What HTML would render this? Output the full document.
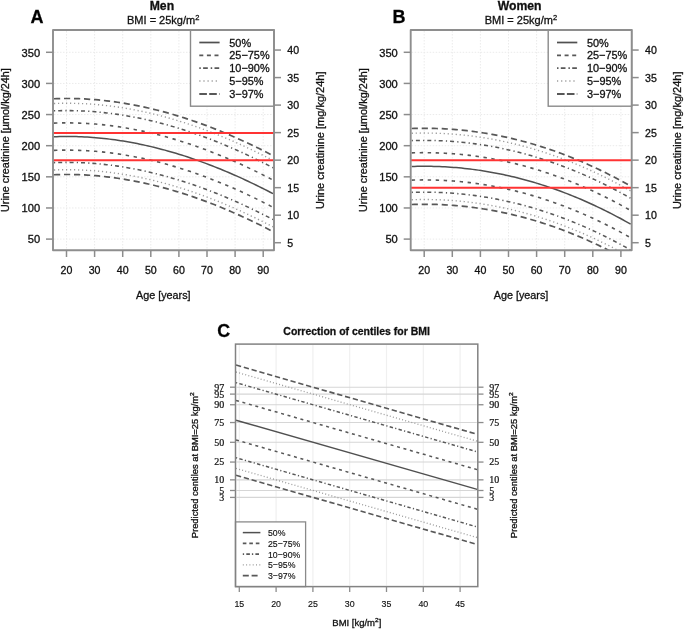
<!DOCTYPE html>
<html><head><meta charset="utf-8"><title>Urine creatinine centiles</title>
<style>html,body{margin:0;padding:0;background:#fff;}svg{display:block;filter:blur(0.4px);} text{stroke:#111;stroke-width:0.3px;}</style>
</head><body>
<svg width="685" height="629" viewBox="0 0 685 629" font-family='"Liberation Sans", sans-serif'>
<defs>
<clipPath id="clipA"><rect x="53" y="30" width="221" height="220.2"/></clipPath>
<clipPath id="clipB"><rect x="53" y="30" width="221" height="220.2"/></clipPath>
</defs>
<rect width="685" height="629" fill="#fff"/>
<g transform="translate(0.00,0)">
<line x1="66.50" y1="31.00" x2="66.50" y2="249.20" stroke="#ebebeb" stroke-width="1" stroke-dasharray="1.5 1.5"/>
<line x1="94.60" y1="31.00" x2="94.60" y2="249.20" stroke="#ebebeb" stroke-width="1" stroke-dasharray="1.5 1.5"/>
<line x1="122.70" y1="31.00" x2="122.70" y2="249.20" stroke="#ebebeb" stroke-width="1" stroke-dasharray="1.5 1.5"/>
<line x1="150.80" y1="31.00" x2="150.80" y2="249.20" stroke="#ebebeb" stroke-width="1" stroke-dasharray="1.5 1.5"/>
<line x1="178.90" y1="31.00" x2="178.90" y2="249.20" stroke="#ebebeb" stroke-width="1" stroke-dasharray="1.5 1.5"/>
<line x1="207.00" y1="31.00" x2="207.00" y2="249.20" stroke="#ebebeb" stroke-width="1" stroke-dasharray="1.5 1.5"/>
<line x1="235.10" y1="31.00" x2="235.10" y2="249.20" stroke="#ebebeb" stroke-width="1" stroke-dasharray="1.5 1.5"/>
<line x1="263.20" y1="31.00" x2="263.20" y2="249.20" stroke="#ebebeb" stroke-width="1" stroke-dasharray="1.5 1.5"/>
<line x1="54.00" y1="239.10" x2="273.00" y2="239.10" stroke="#ebebeb" stroke-width="1" stroke-dasharray="1.5 1.5"/>
<line x1="54.00" y1="207.97" x2="273.00" y2="207.97" stroke="#ebebeb" stroke-width="1" stroke-dasharray="1.5 1.5"/>
<line x1="54.00" y1="176.83" x2="273.00" y2="176.83" stroke="#ebebeb" stroke-width="1" stroke-dasharray="1.5 1.5"/>
<line x1="54.00" y1="145.69" x2="273.00" y2="145.69" stroke="#ebebeb" stroke-width="1" stroke-dasharray="1.5 1.5"/>
<line x1="54.00" y1="114.56" x2="273.00" y2="114.56" stroke="#ebebeb" stroke-width="1" stroke-dasharray="1.5 1.5"/>
<line x1="54.00" y1="83.42" x2="273.00" y2="83.42" stroke="#ebebeb" stroke-width="1" stroke-dasharray="1.5 1.5"/>
<line x1="54.00" y1="52.29" x2="273.00" y2="52.29" stroke="#ebebeb" stroke-width="1" stroke-dasharray="1.5 1.5"/>
<g clip-path="url(#clipA)">
<path d="M54.00,98.75 L56.77,98.65 L59.54,98.58 L62.32,98.53 L65.09,98.50 L67.86,98.50 L70.63,98.52 L73.41,98.56 L76.18,98.62 L78.95,98.71 L81.72,98.82 L84.49,98.95 L87.27,99.11 L90.04,99.29 L92.81,99.49 L95.58,99.71 L98.35,99.95 L101.13,100.22 L103.90,100.50 L106.67,100.81 L109.44,101.14 L112.22,101.49 L114.99,101.87 L117.76,102.26 L120.53,102.68 L123.30,103.12 L126.08,103.58 L128.85,104.06 L131.62,104.56 L134.39,105.08 L137.16,105.62 L139.94,106.18 L142.71,106.77 L145.48,107.37 L148.25,107.99 L151.03,108.64 L153.80,109.30 L156.57,109.99 L159.34,110.69 L162.11,111.42 L164.89,112.16 L167.66,112.93 L170.43,113.71 L173.20,114.51 L175.97,115.34 L178.75,116.18 L181.52,117.04 L184.29,117.92 L187.06,118.82 L189.84,119.74 L192.61,120.68 L195.38,121.63 L198.15,122.61 L200.92,123.60 L203.70,124.61 L206.47,125.64 L209.24,126.69 L212.01,127.76 L214.78,128.84 L217.56,129.95 L220.33,131.07 L223.10,132.21 L225.87,133.37 L228.65,134.54 L231.42,135.73 L234.19,136.94 L236.96,138.17 L239.73,139.42 L242.51,140.68 L245.28,141.96 L248.05,143.25 L250.82,144.57 L253.59,145.90 L256.37,147.24 L259.14,148.61 L261.91,149.99 L264.68,151.38 L267.46,152.80 L270.23,154.23 L273.00,155.67" fill="none" stroke="#585858" stroke-width="1.70" stroke-dasharray="6.2 3.8"/>
<path d="M54.00,103.52 L56.77,103.42 L59.54,103.35 L62.32,103.30 L65.09,103.27 L67.86,103.27 L70.63,103.28 L73.41,103.33 L76.18,103.39 L78.95,103.48 L81.72,103.59 L84.49,103.72 L87.27,103.88 L90.04,104.05 L92.81,104.25 L95.58,104.47 L98.35,104.72 L101.13,104.98 L103.90,105.27 L106.67,105.58 L109.44,105.91 L112.22,106.26 L114.99,106.63 L117.76,107.03 L120.53,107.45 L123.30,107.88 L126.08,108.34 L128.85,108.82 L131.62,109.32 L134.39,109.84 L137.16,110.39 L139.94,110.95 L142.71,111.53 L145.48,112.14 L148.25,112.76 L151.03,113.40 L153.80,114.07 L156.57,114.75 L159.34,115.46 L162.11,116.18 L164.89,116.93 L167.66,117.69 L170.43,118.47 L173.20,119.28 L175.97,120.10 L178.75,120.94 L181.52,121.80 L184.29,122.69 L187.06,123.58 L189.84,124.50 L192.61,125.44 L195.38,126.40 L198.15,127.37 L200.92,128.37 L203.70,129.38 L206.47,130.41 L209.24,131.46 L212.01,132.53 L214.78,133.61 L217.56,134.71 L220.33,135.84 L223.10,136.98 L225.87,138.13 L228.65,139.31 L231.42,140.50 L234.19,141.71 L236.96,142.94 L239.73,144.18 L242.51,145.44 L245.28,146.72 L248.05,148.02 L250.82,149.33 L253.59,150.66 L256.37,152.01 L259.14,153.37 L261.91,154.75 L264.68,156.15 L267.46,157.56 L270.23,158.99 L273.00,160.44" fill="none" stroke="#9a9a9a" stroke-width="1.40" stroke-dasharray="1.2 2.8"/>
<path d="M54.00,110.85 L56.77,110.76 L59.54,110.68 L62.32,110.63 L65.09,110.61 L67.86,110.60 L70.63,110.62 L73.41,110.66 L76.18,110.73 L78.95,110.82 L81.72,110.93 L84.49,111.06 L87.27,111.21 L90.04,111.39 L92.81,111.59 L95.58,111.81 L98.35,112.06 L101.13,112.32 L103.90,112.61 L106.67,112.92 L109.44,113.25 L112.22,113.60 L114.99,113.97 L117.76,114.37 L120.53,114.78 L123.30,115.22 L126.08,115.68 L128.85,116.16 L131.62,116.66 L134.39,117.18 L137.16,117.72 L139.94,118.29 L142.71,118.87 L145.48,119.47 L148.25,120.10 L151.03,120.74 L153.80,121.41 L156.57,122.09 L159.34,122.80 L162.11,123.52 L164.89,124.27 L167.66,125.03 L170.43,125.81 L173.20,126.62 L175.97,127.44 L178.75,128.28 L181.52,129.14 L184.29,130.02 L187.06,130.92 L189.84,131.84 L192.61,132.78 L195.38,133.74 L198.15,134.71 L200.92,135.70 L203.70,136.72 L206.47,137.75 L209.24,138.80 L212.01,139.86 L214.78,140.95 L217.56,142.05 L220.33,143.17 L223.10,144.31 L225.87,145.47 L228.65,146.65 L231.42,147.84 L234.19,149.05 L236.96,150.28 L239.73,151.52 L242.51,152.78 L245.28,154.06 L248.05,155.36 L250.82,156.67 L253.59,158.00 L256.37,159.35 L259.14,160.71 L261.91,162.09 L264.68,163.49 L267.46,164.90 L270.23,166.33 L273.00,167.78" fill="none" stroke="#585858" stroke-width="1.55" stroke-dasharray="1.2 3 4 3.2"/>
<path d="M54.00,123.12 L56.77,123.02 L59.54,122.95 L62.32,122.90 L65.09,122.87 L67.86,122.87 L70.63,122.89 L73.41,122.93 L76.18,122.99 L78.95,123.08 L81.72,123.19 L84.49,123.32 L87.27,123.48 L90.04,123.65 L92.81,123.85 L95.58,124.07 L98.35,124.32 L101.13,124.58 L103.90,124.87 L106.67,125.18 L109.44,125.51 L112.22,125.86 L114.99,126.24 L117.76,126.63 L120.53,127.05 L123.30,127.48 L126.08,127.94 L128.85,128.42 L131.62,128.92 L134.39,129.44 L137.16,129.99 L139.94,130.55 L142.71,131.13 L145.48,131.74 L148.25,132.36 L151.03,133.01 L153.80,133.67 L156.57,134.35 L159.34,135.06 L162.11,135.78 L164.89,136.53 L167.66,137.29 L170.43,138.08 L173.20,138.88 L175.97,139.70 L178.75,140.54 L181.52,141.41 L184.29,142.29 L187.06,143.19 L189.84,144.10 L192.61,145.04 L195.38,146.00 L198.15,146.97 L200.92,147.97 L203.70,148.98 L206.47,150.01 L209.24,151.06 L212.01,152.13 L214.78,153.21 L217.56,154.32 L220.33,155.44 L223.10,156.58 L225.87,157.73 L228.65,158.91 L231.42,160.10 L234.19,161.31 L236.96,162.54 L239.73,163.78 L242.51,165.05 L245.28,166.32 L248.05,167.62 L250.82,168.93 L253.59,170.26 L256.37,171.61 L259.14,172.97 L261.91,174.35 L264.68,175.75 L267.46,177.16 L270.23,178.59 L273.00,180.04" fill="none" stroke="#585858" stroke-width="1.60" stroke-dasharray="3.4 4.6"/>
<path d="M54.00,136.74 L56.77,136.65 L59.54,136.57 L62.32,136.52 L65.09,136.50 L67.86,136.49 L70.63,136.51 L73.41,136.55 L76.18,136.62 L78.95,136.70 L81.72,136.81 L84.49,136.95 L87.27,137.10 L90.04,137.28 L92.81,137.48 L95.58,137.70 L98.35,137.94 L101.13,138.21 L103.90,138.49 L106.67,138.80 L109.44,139.13 L112.22,139.49 L114.99,139.86 L117.76,140.26 L120.53,140.67 L123.30,141.11 L126.08,141.57 L128.85,142.05 L131.62,142.55 L134.39,143.07 L137.16,143.61 L139.94,144.17 L142.71,144.76 L145.48,145.36 L148.25,145.99 L151.03,146.63 L153.80,147.29 L156.57,147.98 L159.34,148.68 L162.11,149.41 L164.89,150.15 L167.66,150.92 L170.43,151.70 L173.20,152.50 L175.97,153.33 L178.75,154.17 L181.52,155.03 L184.29,155.91 L187.06,156.81 L189.84,157.73 L192.61,158.67 L195.38,159.62 L198.15,160.60 L200.92,161.59 L203.70,162.60 L206.47,163.64 L209.24,164.68 L212.01,165.75 L214.78,166.84 L217.56,167.94 L220.33,169.06 L223.10,170.20 L225.87,171.36 L228.65,172.53 L231.42,173.73 L234.19,174.94 L236.96,176.16 L239.73,177.41 L242.51,178.67 L245.28,179.95 L248.05,181.25 L250.82,182.56 L253.59,183.89 L256.37,185.24 L259.14,186.60 L261.91,187.98 L264.68,189.38 L267.46,190.79 L270.23,192.22 L273.00,193.66" fill="none" stroke="#505050" stroke-width="1.50"/>
<path d="M54.00,150.37 L56.77,150.27 L59.54,150.20 L62.32,150.15 L65.09,150.12 L67.86,150.12 L70.63,150.14 L73.41,150.18 L76.18,150.24 L78.95,150.33 L81.72,150.44 L84.49,150.57 L87.27,150.73 L90.04,150.90 L92.81,151.10 L95.58,151.32 L98.35,151.57 L101.13,151.83 L103.90,152.12 L106.67,152.43 L109.44,152.76 L112.22,153.11 L114.99,153.49 L117.76,153.88 L120.53,154.30 L123.30,154.73 L126.08,155.19 L128.85,155.67 L131.62,156.17 L134.39,156.69 L137.16,157.24 L139.94,157.80 L142.71,158.38 L145.48,158.99 L148.25,159.61 L151.03,160.25 L153.80,160.92 L156.57,161.60 L159.34,162.31 L162.11,163.03 L164.89,163.78 L167.66,164.54 L170.43,165.33 L173.20,166.13 L175.97,166.95 L178.75,167.79 L181.52,168.66 L184.29,169.54 L187.06,170.44 L189.84,171.35 L192.61,172.29 L195.38,173.25 L198.15,174.22 L200.92,175.22 L203.70,176.23 L206.47,177.26 L209.24,178.31 L212.01,179.38 L214.78,180.46 L217.56,181.57 L220.33,182.69 L223.10,183.83 L225.87,184.98 L228.65,186.16 L231.42,187.35 L234.19,188.56 L236.96,189.79 L239.73,191.03 L242.51,192.29 L245.28,193.57 L248.05,194.87 L250.82,196.18 L253.59,197.51 L256.37,198.86 L259.14,200.22 L261.91,201.60 L264.68,203.00 L267.46,204.41 L270.23,205.84 L273.00,207.29" fill="none" stroke="#585858" stroke-width="1.60" stroke-dasharray="3.4 4.6"/>
<path d="M54.00,162.63 L56.77,162.53 L59.54,162.46 L62.32,162.41 L65.09,162.38 L67.86,162.38 L70.63,162.40 L73.41,162.44 L76.18,162.50 L78.95,162.59 L81.72,162.70 L84.49,162.83 L87.27,162.99 L90.04,163.17 L92.81,163.36 L95.58,163.59 L98.35,163.83 L101.13,164.10 L103.90,164.38 L106.67,164.69 L109.44,165.02 L112.22,165.37 L114.99,165.75 L117.76,166.14 L120.53,166.56 L123.30,167.00 L126.08,167.46 L128.85,167.93 L131.62,168.44 L134.39,168.96 L137.16,169.50 L139.94,170.06 L142.71,170.64 L145.48,171.25 L148.25,171.87 L151.03,172.52 L153.80,173.18 L156.57,173.87 L159.34,174.57 L162.11,175.30 L164.89,176.04 L167.66,176.80 L170.43,177.59 L173.20,178.39 L175.97,179.21 L178.75,180.06 L181.52,180.92 L184.29,181.80 L187.06,182.70 L189.84,183.62 L192.61,184.55 L195.38,185.51 L198.15,186.49 L200.92,187.48 L203.70,188.49 L206.47,189.52 L209.24,190.57 L212.01,191.64 L214.78,192.72 L217.56,193.83 L220.33,194.95 L223.10,196.09 L225.87,197.25 L228.65,198.42 L231.42,199.61 L234.19,200.82 L236.96,202.05 L239.73,203.30 L242.51,204.56 L245.28,205.84 L248.05,207.13 L250.82,208.45 L253.59,209.78 L256.37,211.12 L259.14,212.49 L261.91,213.87 L264.68,215.26 L267.46,216.68 L270.23,218.11 L273.00,219.55" fill="none" stroke="#585858" stroke-width="1.55" stroke-dasharray="1.2 3 4 3.2"/>
<path d="M54.00,169.97 L56.77,169.87 L59.54,169.80 L62.32,169.75 L65.09,169.72 L67.86,169.72 L70.63,169.74 L73.41,169.78 L76.18,169.84 L78.95,169.93 L81.72,170.04 L84.49,170.17 L87.27,170.33 L90.04,170.50 L92.81,170.70 L95.58,170.93 L98.35,171.17 L101.13,171.43 L103.90,171.72 L106.67,172.03 L109.44,172.36 L112.22,172.71 L114.99,173.09 L117.76,173.48 L120.53,173.90 L123.30,174.34 L126.08,174.79 L128.85,175.27 L131.62,175.77 L134.39,176.30 L137.16,176.84 L139.94,177.40 L142.71,177.98 L145.48,178.59 L148.25,179.21 L151.03,179.86 L153.80,180.52 L156.57,181.21 L159.34,181.91 L162.11,182.63 L164.89,183.38 L167.66,184.14 L170.43,184.93 L173.20,185.73 L175.97,186.55 L178.75,187.40 L181.52,188.26 L184.29,189.14 L187.06,190.04 L189.84,190.96 L192.61,191.89 L195.38,192.85 L198.15,193.82 L200.92,194.82 L203.70,195.83 L206.47,196.86 L209.24,197.91 L212.01,198.98 L214.78,200.06 L217.56,201.17 L220.33,202.29 L223.10,203.43 L225.87,204.58 L228.65,205.76 L231.42,206.95 L234.19,208.16 L236.96,209.39 L239.73,210.63 L242.51,211.90 L245.28,213.18 L248.05,214.47 L250.82,215.78 L253.59,217.11 L256.37,218.46 L259.14,219.83 L261.91,221.21 L264.68,222.60 L267.46,224.02 L270.23,225.44 L273.00,226.89" fill="none" stroke="#9a9a9a" stroke-width="1.40" stroke-dasharray="1.2 2.8"/>
<path d="M54.00,174.73 L56.77,174.64 L59.54,174.56 L62.32,174.51 L65.09,174.49 L67.86,174.48 L70.63,174.50 L73.41,174.54 L76.18,174.61 L78.95,174.70 L81.72,174.81 L84.49,174.94 L87.27,175.09 L90.04,175.27 L92.81,175.47 L95.58,175.69 L98.35,175.93 L101.13,176.20 L103.90,176.49 L106.67,176.80 L109.44,177.13 L112.22,177.48 L114.99,177.85 L117.76,178.25 L120.53,178.66 L123.30,179.10 L126.08,179.56 L128.85,180.04 L131.62,180.54 L134.39,181.06 L137.16,181.60 L139.94,182.17 L142.71,182.75 L145.48,183.35 L148.25,183.98 L151.03,184.62 L153.80,185.29 L156.57,185.97 L159.34,186.68 L162.11,187.40 L164.89,188.14 L167.66,188.91 L170.43,189.69 L173.20,190.50 L175.97,191.32 L178.75,192.16 L181.52,193.02 L184.29,193.90 L187.06,194.80 L189.84,195.72 L192.61,196.66 L195.38,197.62 L198.15,198.59 L200.92,199.58 L203.70,200.60 L206.47,201.63 L209.24,202.68 L212.01,203.74 L214.78,204.83 L217.56,205.93 L220.33,207.05 L223.10,208.19 L225.87,209.35 L228.65,210.53 L231.42,211.72 L234.19,212.93 L236.96,214.16 L239.73,215.40 L242.51,216.66 L245.28,217.94 L248.05,219.24 L250.82,220.55 L253.59,221.88 L256.37,223.23 L259.14,224.59 L261.91,225.97 L264.68,227.37 L267.46,228.78 L270.23,230.21 L273.00,231.66" fill="none" stroke="#585858" stroke-width="1.70" stroke-dasharray="6.2 3.8"/>
</g>
<line x1="53.00" y1="132.95" x2="274.00" y2="132.95" stroke="#ff3333" stroke-width="2"/>
<line x1="53.00" y1="160.30" x2="274.00" y2="160.30" stroke="#ff3333" stroke-width="2"/>
<rect x="190.5" y="30.00" width="83.50" height="76.20" fill="#fff" stroke="#8a8a8a" stroke-width="1.4"/>
<path d="M199.3,42.50 L219.6,42.50" fill="none" stroke="#505050" stroke-width="1.72"/>
<text x="229.3" y="46.60" font-size="10.9" fill="#111">50%</text>
<path d="M199.3,55.35 L219.6,55.35" fill="none" stroke="#585858" stroke-width="1.84" stroke-dasharray="4 3.6"/>
<text x="229.3" y="59.45" font-size="10.9" fill="#111">25−75%</text>
<path d="M199.3,68.20 L219.6,68.20" fill="none" stroke="#585858" stroke-width="1.78" stroke-dasharray="1.5 2.3 4.7 2.9"/>
<text x="229.3" y="72.30" font-size="10.9" fill="#111">10−90%</text>
<path d="M199.3,81.05 L219.6,81.05" fill="none" stroke="#9a9a9a" stroke-width="1.61" stroke-dasharray="1.2 2.9"/>
<text x="229.3" y="85.15" font-size="10.9" fill="#111">5−95%</text>
<path d="M199.3,93.90 L219.6,93.90" fill="none" stroke="#585858" stroke-width="1.95" stroke-dasharray="7.6 2.3"/>
<text x="229.3" y="98.00" font-size="10.9" fill="#111">3−97%</text>
<rect x="53.00" y="30.00" width="221.00" height="220.20" fill="none" stroke="#8e8e8e" stroke-width="1.9" stroke-linejoin="round"/>
<line x1="46" y1="239.10" x2="53.00" y2="239.10" stroke="#8c8c8c" stroke-width="1.5"/>
<text transform="translate(40.1,243.35) scale(1.05,1)" font-size="10.6" text-anchor="end" fill="#111">50</text>
<line x1="46" y1="207.97" x2="53.00" y2="207.97" stroke="#8c8c8c" stroke-width="1.5"/>
<text transform="translate(40.1,212.22) scale(1.05,1)" font-size="10.6" text-anchor="end" fill="#111">100</text>
<line x1="46" y1="176.83" x2="53.00" y2="176.83" stroke="#8c8c8c" stroke-width="1.5"/>
<text transform="translate(40.1,181.08) scale(1.05,1)" font-size="10.6" text-anchor="end" fill="#111">150</text>
<line x1="46" y1="145.69" x2="53.00" y2="145.69" stroke="#8c8c8c" stroke-width="1.5"/>
<text transform="translate(40.1,149.94) scale(1.05,1)" font-size="10.6" text-anchor="end" fill="#111">200</text>
<line x1="46" y1="114.56" x2="53.00" y2="114.56" stroke="#8c8c8c" stroke-width="1.5"/>
<text transform="translate(40.1,118.81) scale(1.05,1)" font-size="10.6" text-anchor="end" fill="#111">250</text>
<line x1="46" y1="83.42" x2="53.00" y2="83.42" stroke="#8c8c8c" stroke-width="1.5"/>
<text transform="translate(40.1,87.67) scale(1.05,1)" font-size="10.6" text-anchor="end" fill="#111">300</text>
<line x1="46" y1="52.29" x2="53.00" y2="52.29" stroke="#8c8c8c" stroke-width="1.5"/>
<text transform="translate(40.1,56.54) scale(1.05,1)" font-size="10.6" text-anchor="end" fill="#111">350</text>
<line x1="274.00" y1="242.71" x2="281" y2="242.71" stroke="#8c8c8c" stroke-width="1.5"/>
<text x="287.3" y="246.71" font-size="10.6" fill="#111">5</text>
<line x1="274.00" y1="215.19" x2="281" y2="215.19" stroke="#8c8c8c" stroke-width="1.5"/>
<text x="287.3" y="219.19" font-size="10.6" fill="#111">10</text>
<line x1="274.00" y1="187.66" x2="281" y2="187.66" stroke="#8c8c8c" stroke-width="1.5"/>
<text x="287.3" y="191.66" font-size="10.6" fill="#111">15</text>
<line x1="274.00" y1="160.14" x2="281" y2="160.14" stroke="#8c8c8c" stroke-width="1.5"/>
<text x="287.3" y="164.14" font-size="10.6" fill="#111">20</text>
<line x1="274.00" y1="132.62" x2="281" y2="132.62" stroke="#8c8c8c" stroke-width="1.5"/>
<text x="287.3" y="136.62" font-size="10.6" fill="#111">25</text>
<line x1="274.00" y1="105.09" x2="281" y2="105.09" stroke="#8c8c8c" stroke-width="1.5"/>
<text x="287.3" y="109.09" font-size="10.6" fill="#111">30</text>
<line x1="274.00" y1="77.57" x2="281" y2="77.57" stroke="#8c8c8c" stroke-width="1.5"/>
<text x="287.3" y="81.57" font-size="10.6" fill="#111">35</text>
<line x1="274.00" y1="50.05" x2="281" y2="50.05" stroke="#8c8c8c" stroke-width="1.5"/>
<text x="287.3" y="54.05" font-size="10.6" fill="#111">40</text>
<line x1="66.50" y1="250.20" x2="66.50" y2="257" stroke="#8c8c8c" stroke-width="1.5"/>
<text x="66.50" y="273.8" font-size="10.6" text-anchor="middle" fill="#111">20</text>
<line x1="94.60" y1="250.20" x2="94.60" y2="257" stroke="#8c8c8c" stroke-width="1.5"/>
<text x="94.60" y="273.8" font-size="10.6" text-anchor="middle" fill="#111">30</text>
<line x1="122.70" y1="250.20" x2="122.70" y2="257" stroke="#8c8c8c" stroke-width="1.5"/>
<text x="122.70" y="273.8" font-size="10.6" text-anchor="middle" fill="#111">40</text>
<line x1="150.80" y1="250.20" x2="150.80" y2="257" stroke="#8c8c8c" stroke-width="1.5"/>
<text x="150.80" y="273.8" font-size="10.6" text-anchor="middle" fill="#111">50</text>
<line x1="178.90" y1="250.20" x2="178.90" y2="257" stroke="#8c8c8c" stroke-width="1.5"/>
<text x="178.90" y="273.8" font-size="10.6" text-anchor="middle" fill="#111">60</text>
<line x1="207.00" y1="250.20" x2="207.00" y2="257" stroke="#8c8c8c" stroke-width="1.5"/>
<text x="207.00" y="273.8" font-size="10.6" text-anchor="middle" fill="#111">70</text>
<line x1="235.10" y1="250.20" x2="235.10" y2="257" stroke="#8c8c8c" stroke-width="1.5"/>
<text x="235.10" y="273.8" font-size="10.6" text-anchor="middle" fill="#111">80</text>
<line x1="263.20" y1="250.20" x2="263.20" y2="257" stroke="#8c8c8c" stroke-width="1.5"/>
<text x="263.20" y="273.8" font-size="10.6" text-anchor="middle" fill="#111">90</text>
<text x="163.3" y="299.1" font-size="10.8" text-anchor="middle" fill="#111">Age [years]</text>
<text transform="translate(9.0,140.1) rotate(-90)" font-size="10.8" text-anchor="middle" fill="#111">Urine creatinine [µmol/kg/24h]</text>
<text transform="translate(323.6,140.3) rotate(-90)" font-size="11" text-anchor="middle" fill="#111">Urine creatinine [mg/kg/24h]</text>
<text x="161.9" y="10.25" font-size="12.2" font-weight="bold" text-anchor="middle" fill="#111">Men</text>
<text x="163.2" y="24.1" font-size="11" text-anchor="middle" fill="#111">BMI = 25kg/m<tspan font-size="7.5" dy="-4">2</tspan></text>
<text x="30.50" y="22.6" font-size="18" font-weight="bold" fill="#000">A</text>
</g>
<g transform="translate(357.70,0)">
<line x1="66.50" y1="31.00" x2="66.50" y2="249.20" stroke="#ebebeb" stroke-width="1" stroke-dasharray="1.5 1.5"/>
<line x1="94.60" y1="31.00" x2="94.60" y2="249.20" stroke="#ebebeb" stroke-width="1" stroke-dasharray="1.5 1.5"/>
<line x1="122.70" y1="31.00" x2="122.70" y2="249.20" stroke="#ebebeb" stroke-width="1" stroke-dasharray="1.5 1.5"/>
<line x1="150.80" y1="31.00" x2="150.80" y2="249.20" stroke="#ebebeb" stroke-width="1" stroke-dasharray="1.5 1.5"/>
<line x1="178.90" y1="31.00" x2="178.90" y2="249.20" stroke="#ebebeb" stroke-width="1" stroke-dasharray="1.5 1.5"/>
<line x1="207.00" y1="31.00" x2="207.00" y2="249.20" stroke="#ebebeb" stroke-width="1" stroke-dasharray="1.5 1.5"/>
<line x1="235.10" y1="31.00" x2="235.10" y2="249.20" stroke="#ebebeb" stroke-width="1" stroke-dasharray="1.5 1.5"/>
<line x1="263.20" y1="31.00" x2="263.20" y2="249.20" stroke="#ebebeb" stroke-width="1" stroke-dasharray="1.5 1.5"/>
<line x1="54.00" y1="239.10" x2="273.00" y2="239.10" stroke="#ebebeb" stroke-width="1" stroke-dasharray="1.5 1.5"/>
<line x1="54.00" y1="207.97" x2="273.00" y2="207.97" stroke="#ebebeb" stroke-width="1" stroke-dasharray="1.5 1.5"/>
<line x1="54.00" y1="176.83" x2="273.00" y2="176.83" stroke="#ebebeb" stroke-width="1" stroke-dasharray="1.5 1.5"/>
<line x1="54.00" y1="145.69" x2="273.00" y2="145.69" stroke="#ebebeb" stroke-width="1" stroke-dasharray="1.5 1.5"/>
<line x1="54.00" y1="114.56" x2="273.00" y2="114.56" stroke="#ebebeb" stroke-width="1" stroke-dasharray="1.5 1.5"/>
<line x1="54.00" y1="83.42" x2="273.00" y2="83.42" stroke="#ebebeb" stroke-width="1" stroke-dasharray="1.5 1.5"/>
<line x1="54.00" y1="52.29" x2="273.00" y2="52.29" stroke="#ebebeb" stroke-width="1" stroke-dasharray="1.5 1.5"/>
<g clip-path="url(#clipB)">
<path d="M54.00,128.51 L56.77,128.42 L59.54,128.36 L62.32,128.32 L65.09,128.29 L67.86,128.29 L70.63,128.31 L73.41,128.35 L76.18,128.41 L78.95,128.49 L81.72,128.59 L84.49,128.71 L87.27,128.85 L90.04,129.01 L92.81,129.19 L95.58,129.39 L98.35,129.62 L101.13,129.86 L103.90,130.12 L106.67,130.41 L109.44,130.71 L112.22,131.04 L114.99,131.39 L117.76,131.75 L120.53,132.14 L123.30,132.55 L126.08,132.98 L128.85,133.43 L131.62,133.90 L134.39,134.40 L137.16,134.91 L139.94,135.44 L142.71,136.00 L145.48,136.57 L148.25,137.17 L151.03,137.79 L153.80,138.43 L156.57,139.09 L159.34,139.77 L162.11,140.47 L164.89,141.20 L167.66,141.94 L170.43,142.71 L173.20,143.50 L175.97,144.30 L178.75,145.13 L181.52,145.98 L184.29,146.86 L187.06,147.75 L189.84,148.67 L192.61,149.60 L195.38,150.56 L198.15,151.54 L200.92,152.54 L203.70,153.56 L206.47,154.61 L209.24,155.67 L212.01,156.76 L214.78,157.87 L217.56,159.00 L220.33,160.15 L223.10,161.32 L225.87,162.52 L228.65,163.73 L231.42,164.97 L234.19,166.23 L236.96,167.52 L239.73,168.82 L242.51,170.14 L245.28,171.49 L248.05,172.86 L250.82,174.25 L253.59,175.67 L256.37,177.10 L259.14,178.56 L261.91,180.04 L264.68,181.54 L267.46,183.06 L270.23,184.61 L273.00,186.17" fill="none" stroke="#585858" stroke-width="1.70" stroke-dasharray="6.2 3.8"/>
<path d="M54.00,133.27 L56.77,133.19 L59.54,133.13 L62.32,133.08 L65.09,133.06 L67.86,133.06 L70.63,133.08 L73.41,133.11 L76.18,133.17 L78.95,133.25 L81.72,133.35 L84.49,133.47 L87.27,133.61 L90.04,133.78 L92.81,133.96 L95.58,134.16 L98.35,134.38 L101.13,134.63 L103.90,134.89 L106.67,135.17 L109.44,135.48 L112.22,135.81 L114.99,136.15 L117.76,136.52 L120.53,136.91 L123.30,137.32 L126.08,137.75 L128.85,138.20 L131.62,138.67 L134.39,139.16 L137.16,139.68 L139.94,140.21 L142.71,140.76 L145.48,141.34 L148.25,141.94 L151.03,142.56 L153.80,143.20 L156.57,143.86 L159.34,144.54 L162.11,145.24 L164.89,145.96 L167.66,146.71 L170.43,147.47 L173.20,148.26 L175.97,149.07 L178.75,149.90 L181.52,150.75 L184.29,151.62 L187.06,152.52 L189.84,153.43 L192.61,154.37 L195.38,155.33 L198.15,156.31 L200.92,157.31 L203.70,158.33 L206.47,159.37 L209.24,160.44 L212.01,161.52 L214.78,162.63 L217.56,163.76 L220.33,164.92 L223.10,166.09 L225.87,167.28 L228.65,168.50 L231.42,169.74 L234.19,171.00 L236.96,172.28 L239.73,173.58 L242.51,174.91 L245.28,176.26 L248.05,177.63 L250.82,179.02 L253.59,180.43 L256.37,181.87 L259.14,183.32 L261.91,184.80 L264.68,186.30 L267.46,187.83 L270.23,189.37 L273.00,190.94" fill="none" stroke="#9a9a9a" stroke-width="1.40" stroke-dasharray="1.2 2.8"/>
<path d="M54.00,140.61 L56.77,140.53 L59.54,140.46 L62.32,140.42 L65.09,140.40 L67.86,140.40 L70.63,140.42 L73.41,140.45 L76.18,140.51 L78.95,140.59 L81.72,140.69 L84.49,140.81 L87.27,140.95 L90.04,141.11 L92.81,141.30 L95.58,141.50 L98.35,141.72 L101.13,141.96 L103.90,142.23 L106.67,142.51 L109.44,142.82 L112.22,143.14 L114.99,143.49 L117.76,143.86 L120.53,144.25 L123.30,144.66 L126.08,145.09 L128.85,145.54 L131.62,146.01 L134.39,146.50 L137.16,147.01 L139.94,147.55 L142.71,148.10 L145.48,148.68 L148.25,149.28 L151.03,149.89 L153.80,150.53 L156.57,151.19 L159.34,151.88 L162.11,152.58 L164.89,153.30 L167.66,154.05 L170.43,154.81 L173.20,155.60 L175.97,156.41 L178.75,157.24 L181.52,158.09 L184.29,158.96 L187.06,159.86 L189.84,160.77 L192.61,161.71 L195.38,162.67 L198.15,163.64 L200.92,164.65 L203.70,165.67 L206.47,166.71 L209.24,167.78 L212.01,168.86 L214.78,169.97 L217.56,171.10 L220.33,172.25 L223.10,173.43 L225.87,174.62 L228.65,175.84 L231.42,177.08 L234.19,178.34 L236.96,179.62 L239.73,180.92 L242.51,182.25 L245.28,183.60 L248.05,184.97 L250.82,186.36 L253.59,187.77 L256.37,189.21 L259.14,190.66 L261.91,192.14 L264.68,193.64 L267.46,195.17 L270.23,196.71 L273.00,198.28" fill="none" stroke="#585858" stroke-width="1.55" stroke-dasharray="1.2 3 4 3.2"/>
<path d="M54.00,152.87 L56.77,152.79 L59.54,152.73 L62.32,152.68 L65.09,152.66 L67.86,152.66 L70.63,152.68 L73.41,152.72 L76.18,152.78 L78.95,152.85 L81.72,152.95 L84.49,153.07 L87.27,153.22 L90.04,153.38 L92.81,153.56 L95.58,153.76 L98.35,153.98 L101.13,154.23 L103.90,154.49 L106.67,154.78 L109.44,155.08 L112.22,155.41 L114.99,155.75 L117.76,156.12 L120.53,156.51 L123.30,156.92 L126.08,157.35 L128.85,157.80 L131.62,158.27 L134.39,158.76 L137.16,159.28 L139.94,159.81 L142.71,160.37 L145.48,160.94 L148.25,161.54 L151.03,162.16 L153.80,162.80 L156.57,163.46 L159.34,164.14 L162.11,164.84 L164.89,165.56 L167.66,166.31 L170.43,167.08 L173.20,167.86 L175.97,168.67 L178.75,169.50 L181.52,170.35 L184.29,171.22 L187.06,172.12 L189.84,173.03 L192.61,173.97 L195.38,174.93 L198.15,175.91 L200.92,176.91 L203.70,177.93 L206.47,178.97 L209.24,180.04 L212.01,181.13 L214.78,182.23 L217.56,183.36 L220.33,184.52 L223.10,185.69 L225.87,186.88 L228.65,188.10 L231.42,189.34 L234.19,190.60 L236.96,191.88 L239.73,193.19 L242.51,194.51 L245.28,195.86 L248.05,197.23 L250.82,198.62 L253.59,200.03 L256.37,201.47 L259.14,202.93 L261.91,204.40 L264.68,205.91 L267.46,207.43 L270.23,208.97 L273.00,210.54" fill="none" stroke="#585858" stroke-width="1.60" stroke-dasharray="3.4 4.6"/>
<path d="M54.00,166.50 L56.77,166.41 L59.54,166.35 L62.32,166.31 L65.09,166.29 L67.86,166.28 L70.63,166.30 L73.41,166.34 L76.18,166.40 L78.95,166.48 L81.72,166.58 L84.49,166.70 L87.27,166.84 L90.04,167.00 L92.81,167.18 L95.58,167.39 L98.35,167.61 L101.13,167.85 L103.90,168.12 L106.67,168.40 L109.44,168.71 L112.22,169.03 L114.99,169.38 L117.76,169.75 L120.53,170.13 L123.30,170.54 L126.08,170.97 L128.85,171.42 L131.62,171.90 L134.39,172.39 L137.16,172.90 L139.94,173.44 L142.71,173.99 L145.48,174.57 L148.25,175.16 L151.03,175.78 L153.80,176.42 L156.57,177.08 L159.34,177.76 L162.11,178.47 L164.89,179.19 L167.66,179.93 L170.43,180.70 L173.20,181.49 L175.97,182.30 L178.75,183.13 L181.52,183.98 L184.29,184.85 L187.06,185.74 L189.84,186.66 L192.61,187.59 L195.38,188.55 L198.15,189.53 L200.92,190.53 L203.70,191.55 L206.47,192.60 L209.24,193.66 L212.01,194.75 L214.78,195.86 L217.56,196.99 L220.33,198.14 L223.10,199.31 L225.87,200.51 L228.65,201.73 L231.42,202.96 L234.19,204.23 L236.96,205.51 L239.73,206.81 L242.51,208.14 L245.28,209.48 L248.05,210.85 L250.82,212.24 L253.59,213.66 L256.37,215.09 L259.14,216.55 L261.91,218.03 L264.68,219.53 L267.46,221.05 L270.23,222.60 L273.00,224.17" fill="none" stroke="#505050" stroke-width="1.50"/>
<path d="M54.00,180.12 L56.77,180.04 L59.54,179.98 L62.32,179.93 L65.09,179.91 L67.86,179.91 L70.63,179.93 L73.41,179.97 L76.18,180.02 L78.95,180.10 L81.72,180.20 L84.49,180.32 L87.27,180.46 L90.04,180.63 L92.81,180.81 L95.58,181.01 L98.35,181.23 L101.13,181.48 L103.90,181.74 L106.67,182.03 L109.44,182.33 L112.22,182.66 L114.99,183.00 L117.76,183.37 L120.53,183.76 L123.30,184.17 L126.08,184.60 L128.85,185.05 L131.62,185.52 L134.39,186.01 L137.16,186.53 L139.94,187.06 L142.71,187.62 L145.48,188.19 L148.25,188.79 L151.03,189.41 L153.80,190.05 L156.57,190.71 L159.34,191.39 L162.11,192.09 L164.89,192.81 L167.66,193.56 L170.43,194.32 L173.20,195.11 L175.97,195.92 L178.75,196.75 L181.52,197.60 L184.29,198.47 L187.06,199.37 L189.84,200.28 L192.61,201.22 L195.38,202.18 L198.15,203.16 L200.92,204.16 L203.70,205.18 L206.47,206.22 L209.24,207.29 L212.01,208.38 L214.78,209.48 L217.56,210.61 L220.33,211.77 L223.10,212.94 L225.87,214.13 L228.65,215.35 L231.42,216.59 L234.19,217.85 L236.96,219.13 L239.73,220.44 L242.51,221.76 L245.28,223.11 L248.05,224.48 L250.82,225.87 L253.59,227.28 L256.37,228.72 L259.14,230.17 L261.91,231.65 L264.68,233.16 L267.46,234.68 L270.23,236.22 L273.00,237.79" fill="none" stroke="#585858" stroke-width="1.60" stroke-dasharray="3.4 4.6"/>
<path d="M54.00,192.38 L56.77,192.30 L59.54,192.24 L62.32,192.20 L65.09,192.17 L67.86,192.17 L70.63,192.19 L73.41,192.23 L76.18,192.29 L78.95,192.37 L81.72,192.47 L84.49,192.59 L87.27,192.73 L90.04,192.89 L92.81,193.07 L95.58,193.27 L98.35,193.50 L101.13,193.74 L103.90,194.00 L106.67,194.29 L109.44,194.59 L112.22,194.92 L114.99,195.27 L117.76,195.63 L120.53,196.02 L123.30,196.43 L126.08,196.86 L128.85,197.31 L131.62,197.78 L134.39,198.28 L137.16,198.79 L139.94,199.32 L142.71,199.88 L145.48,200.45 L148.25,201.05 L151.03,201.67 L153.80,202.31 L156.57,202.97 L159.34,203.65 L162.11,204.35 L164.89,205.08 L167.66,205.82 L170.43,206.59 L173.20,207.37 L175.97,208.18 L178.75,209.01 L181.52,209.86 L184.29,210.74 L187.06,211.63 L189.84,212.55 L192.61,213.48 L195.38,214.44 L198.15,215.42 L200.92,216.42 L203.70,217.44 L206.47,218.49 L209.24,219.55 L212.01,220.64 L214.78,221.75 L217.56,222.88 L220.33,224.03 L223.10,225.20 L225.87,226.40 L228.65,227.61 L231.42,228.85 L234.19,230.11 L236.96,231.39 L239.73,232.70 L242.51,234.02 L245.28,235.37 L248.05,236.74 L250.82,238.13 L253.59,239.55 L256.37,240.98 L259.14,242.44 L261.91,243.92 L264.68,245.42 L267.46,246.94 L270.23,248.49 L273.00,250.05" fill="none" stroke="#585858" stroke-width="1.55" stroke-dasharray="1.2 3 4 3.2"/>
<path d="M54.00,199.72 L56.77,199.64 L59.54,199.58 L62.32,199.53 L65.09,199.51 L67.86,199.51 L70.63,199.53 L73.41,199.57 L76.18,199.63 L78.95,199.71 L81.72,199.81 L84.49,199.93 L87.27,200.07 L90.04,200.23 L92.81,200.41 L95.58,200.61 L98.35,200.83 L101.13,201.08 L103.90,201.34 L106.67,201.63 L109.44,201.93 L112.22,202.26 L114.99,202.60 L117.76,202.97 L120.53,203.36 L123.30,203.77 L126.08,204.20 L128.85,204.65 L131.62,205.12 L134.39,205.61 L137.16,206.13 L139.94,206.66 L142.71,207.22 L145.48,207.79 L148.25,208.39 L151.03,209.01 L153.80,209.65 L156.57,210.31 L159.34,210.99 L162.11,211.69 L164.89,212.42 L167.66,213.16 L170.43,213.93 L173.20,214.71 L175.97,215.52 L178.75,216.35 L181.52,217.20 L184.29,218.08 L187.06,218.97 L189.84,219.88 L192.61,220.82 L195.38,221.78 L198.15,222.76 L200.92,223.76 L203.70,224.78 L206.47,225.82 L209.24,226.89 L212.01,227.98 L214.78,229.09 L217.56,230.22 L220.33,231.37 L223.10,232.54 L225.87,233.74 L228.65,234.95 L231.42,236.19 L234.19,237.45 L236.96,238.73 L239.73,240.04 L242.51,241.36 L245.28,242.71 L248.05,244.08 L250.82,245.47 L253.59,246.88 L256.37,248.32 L259.14,249.78 L261.91,251.26 L264.68,252.76 L267.46,254.28 L270.23,255.82 L273.00,257.39" fill="none" stroke="#9a9a9a" stroke-width="1.40" stroke-dasharray="1.2 2.8"/>
<path d="M54.00,204.49 L56.77,204.41 L59.54,204.34 L62.32,204.30 L65.09,204.28 L67.86,204.28 L70.63,204.29 L73.41,204.33 L76.18,204.39 L78.95,204.47 L81.72,204.57 L84.49,204.69 L87.27,204.83 L90.04,204.99 L92.81,205.18 L95.58,205.38 L98.35,205.60 L101.13,205.84 L103.90,206.11 L106.67,206.39 L109.44,206.70 L112.22,207.02 L114.99,207.37 L117.76,207.74 L120.53,208.13 L123.30,208.54 L126.08,208.97 L128.85,209.42 L131.62,209.89 L134.39,210.38 L137.16,210.89 L139.94,211.43 L142.71,211.98 L145.48,212.56 L148.25,213.16 L151.03,213.77 L153.80,214.41 L156.57,215.07 L159.34,215.76 L162.11,216.46 L164.89,217.18 L167.66,217.93 L170.43,218.69 L173.20,219.48 L175.97,220.29 L178.75,221.12 L181.52,221.97 L184.29,222.84 L187.06,223.73 L189.84,224.65 L192.61,225.59 L195.38,226.54 L198.15,227.52 L200.92,228.52 L203.70,229.55 L206.47,230.59 L209.24,231.66 L212.01,232.74 L214.78,233.85 L217.56,234.98 L220.33,236.13 L223.10,237.31 L225.87,238.50 L228.65,239.72 L231.42,240.96 L234.19,242.22 L236.96,243.50 L239.73,244.80 L242.51,246.13 L245.28,247.48 L248.05,248.85 L250.82,250.24 L253.59,251.65 L256.37,253.09 L259.14,254.54 L261.91,256.02 L264.68,257.52 L267.46,259.05 L270.23,260.59 L273.00,262.16" fill="none" stroke="#585858" stroke-width="1.70" stroke-dasharray="6.2 3.8"/>
</g>
<line x1="53.00" y1="160.25" x2="274.00" y2="160.25" stroke="#ff3333" stroke-width="2"/>
<line x1="53.00" y1="187.70" x2="274.00" y2="187.70" stroke="#ff3333" stroke-width="2"/>
<rect x="190.5" y="30.00" width="83.50" height="76.20" fill="#fff" stroke="#8a8a8a" stroke-width="1.4"/>
<path d="M199.3,42.50 L219.6,42.50" fill="none" stroke="#505050" stroke-width="1.72"/>
<text x="229.3" y="46.60" font-size="10.9" fill="#111">50%</text>
<path d="M199.3,55.35 L219.6,55.35" fill="none" stroke="#585858" stroke-width="1.84" stroke-dasharray="4 3.6"/>
<text x="229.3" y="59.45" font-size="10.9" fill="#111">25−75%</text>
<path d="M199.3,68.20 L219.6,68.20" fill="none" stroke="#585858" stroke-width="1.78" stroke-dasharray="1.5 2.3 4.7 2.9"/>
<text x="229.3" y="72.30" font-size="10.9" fill="#111">10−90%</text>
<path d="M199.3,81.05 L219.6,81.05" fill="none" stroke="#9a9a9a" stroke-width="1.61" stroke-dasharray="1.2 2.9"/>
<text x="229.3" y="85.15" font-size="10.9" fill="#111">5−95%</text>
<path d="M199.3,93.90 L219.6,93.90" fill="none" stroke="#585858" stroke-width="1.95" stroke-dasharray="7.6 2.3"/>
<text x="229.3" y="98.00" font-size="10.9" fill="#111">3−97%</text>
<rect x="53.00" y="30.00" width="221.00" height="220.20" fill="none" stroke="#8e8e8e" stroke-width="1.9" stroke-linejoin="round"/>
<line x1="46" y1="239.10" x2="53.00" y2="239.10" stroke="#8c8c8c" stroke-width="1.5"/>
<text transform="translate(40.1,243.35) scale(1.05,1)" font-size="10.6" text-anchor="end" fill="#111">50</text>
<line x1="46" y1="207.97" x2="53.00" y2="207.97" stroke="#8c8c8c" stroke-width="1.5"/>
<text transform="translate(40.1,212.22) scale(1.05,1)" font-size="10.6" text-anchor="end" fill="#111">100</text>
<line x1="46" y1="176.83" x2="53.00" y2="176.83" stroke="#8c8c8c" stroke-width="1.5"/>
<text transform="translate(40.1,181.08) scale(1.05,1)" font-size="10.6" text-anchor="end" fill="#111">150</text>
<line x1="46" y1="145.69" x2="53.00" y2="145.69" stroke="#8c8c8c" stroke-width="1.5"/>
<text transform="translate(40.1,149.94) scale(1.05,1)" font-size="10.6" text-anchor="end" fill="#111">200</text>
<line x1="46" y1="114.56" x2="53.00" y2="114.56" stroke="#8c8c8c" stroke-width="1.5"/>
<text transform="translate(40.1,118.81) scale(1.05,1)" font-size="10.6" text-anchor="end" fill="#111">250</text>
<line x1="46" y1="83.42" x2="53.00" y2="83.42" stroke="#8c8c8c" stroke-width="1.5"/>
<text transform="translate(40.1,87.67) scale(1.05,1)" font-size="10.6" text-anchor="end" fill="#111">300</text>
<line x1="46" y1="52.29" x2="53.00" y2="52.29" stroke="#8c8c8c" stroke-width="1.5"/>
<text transform="translate(40.1,56.54) scale(1.05,1)" font-size="10.6" text-anchor="end" fill="#111">350</text>
<line x1="274.00" y1="242.71" x2="281" y2="242.71" stroke="#8c8c8c" stroke-width="1.5"/>
<text x="287.3" y="246.71" font-size="10.6" fill="#111">5</text>
<line x1="274.00" y1="215.19" x2="281" y2="215.19" stroke="#8c8c8c" stroke-width="1.5"/>
<text x="287.3" y="219.19" font-size="10.6" fill="#111">10</text>
<line x1="274.00" y1="187.66" x2="281" y2="187.66" stroke="#8c8c8c" stroke-width="1.5"/>
<text x="287.3" y="191.66" font-size="10.6" fill="#111">15</text>
<line x1="274.00" y1="160.14" x2="281" y2="160.14" stroke="#8c8c8c" stroke-width="1.5"/>
<text x="287.3" y="164.14" font-size="10.6" fill="#111">20</text>
<line x1="274.00" y1="132.62" x2="281" y2="132.62" stroke="#8c8c8c" stroke-width="1.5"/>
<text x="287.3" y="136.62" font-size="10.6" fill="#111">25</text>
<line x1="274.00" y1="105.09" x2="281" y2="105.09" stroke="#8c8c8c" stroke-width="1.5"/>
<text x="287.3" y="109.09" font-size="10.6" fill="#111">30</text>
<line x1="274.00" y1="77.57" x2="281" y2="77.57" stroke="#8c8c8c" stroke-width="1.5"/>
<text x="287.3" y="81.57" font-size="10.6" fill="#111">35</text>
<line x1="274.00" y1="50.05" x2="281" y2="50.05" stroke="#8c8c8c" stroke-width="1.5"/>
<text x="287.3" y="54.05" font-size="10.6" fill="#111">40</text>
<line x1="66.50" y1="250.20" x2="66.50" y2="257" stroke="#8c8c8c" stroke-width="1.5"/>
<text x="66.50" y="273.8" font-size="10.6" text-anchor="middle" fill="#111">20</text>
<line x1="94.60" y1="250.20" x2="94.60" y2="257" stroke="#8c8c8c" stroke-width="1.5"/>
<text x="94.60" y="273.8" font-size="10.6" text-anchor="middle" fill="#111">30</text>
<line x1="122.70" y1="250.20" x2="122.70" y2="257" stroke="#8c8c8c" stroke-width="1.5"/>
<text x="122.70" y="273.8" font-size="10.6" text-anchor="middle" fill="#111">40</text>
<line x1="150.80" y1="250.20" x2="150.80" y2="257" stroke="#8c8c8c" stroke-width="1.5"/>
<text x="150.80" y="273.8" font-size="10.6" text-anchor="middle" fill="#111">50</text>
<line x1="178.90" y1="250.20" x2="178.90" y2="257" stroke="#8c8c8c" stroke-width="1.5"/>
<text x="178.90" y="273.8" font-size="10.6" text-anchor="middle" fill="#111">60</text>
<line x1="207.00" y1="250.20" x2="207.00" y2="257" stroke="#8c8c8c" stroke-width="1.5"/>
<text x="207.00" y="273.8" font-size="10.6" text-anchor="middle" fill="#111">70</text>
<line x1="235.10" y1="250.20" x2="235.10" y2="257" stroke="#8c8c8c" stroke-width="1.5"/>
<text x="235.10" y="273.8" font-size="10.6" text-anchor="middle" fill="#111">80</text>
<line x1="263.20" y1="250.20" x2="263.20" y2="257" stroke="#8c8c8c" stroke-width="1.5"/>
<text x="263.20" y="273.8" font-size="10.6" text-anchor="middle" fill="#111">90</text>
<text x="163.3" y="299.1" font-size="10.8" text-anchor="middle" fill="#111">Age [years]</text>
<text transform="translate(9.0,140.1) rotate(-90)" font-size="10.8" text-anchor="middle" fill="#111">Urine creatinine [µmol/kg/24h]</text>
<text transform="translate(323.6,140.3) rotate(-90)" font-size="11" text-anchor="middle" fill="#111">Urine creatinine [mg/kg/24h]</text>
<text x="161.9" y="10.25" font-size="12.2" font-weight="bold" text-anchor="middle" fill="#111">Women</text>
<text x="163.2" y="24.1" font-size="11" text-anchor="middle" fill="#111">BMI = 25kg/m<tspan font-size="7.5" dy="-4">2</tspan></text>
<text x="34.90" y="22.6" font-size="18" font-weight="bold" fill="#000">B</text>
</g>
<line x1="239.30" y1="345.10" x2="239.30" y2="585.60" stroke="#f0f0f0" stroke-width="1.2"/>
<line x1="276.10" y1="345.10" x2="276.10" y2="585.60" stroke="#f0f0f0" stroke-width="1.2"/>
<line x1="312.90" y1="345.10" x2="312.90" y2="585.60" stroke="#f0f0f0" stroke-width="1.2"/>
<line x1="349.70" y1="345.10" x2="349.70" y2="585.60" stroke="#f0f0f0" stroke-width="1.2"/>
<line x1="386.50" y1="345.10" x2="386.50" y2="585.60" stroke="#f0f0f0" stroke-width="1.2"/>
<line x1="423.30" y1="345.10" x2="423.30" y2="585.60" stroke="#f0f0f0" stroke-width="1.2"/>
<line x1="460.10" y1="345.10" x2="460.10" y2="585.60" stroke="#f0f0f0" stroke-width="1.2"/>
<line x1="236.50" y1="497.41" x2="476.80" y2="497.41" stroke="#d6d6d6" stroke-width="1.1"/>
<line x1="236.50" y1="490.49" x2="476.80" y2="490.49" stroke="#d6d6d6" stroke-width="1.1"/>
<line x1="236.50" y1="479.85" x2="476.80" y2="479.85" stroke="#d6d6d6" stroke-width="1.1"/>
<line x1="236.50" y1="462.06" x2="476.80" y2="462.06" stroke="#d6d6d6" stroke-width="1.1"/>
<line x1="236.50" y1="442.30" x2="476.80" y2="442.30" stroke="#d6d6d6" stroke-width="1.1"/>
<line x1="236.50" y1="422.54" x2="476.80" y2="422.54" stroke="#d6d6d6" stroke-width="1.1"/>
<line x1="236.50" y1="404.75" x2="476.80" y2="404.75" stroke="#d6d6d6" stroke-width="1.1"/>
<line x1="236.50" y1="394.11" x2="476.80" y2="394.11" stroke="#d6d6d6" stroke-width="1.1"/>
<line x1="236.50" y1="387.19" x2="476.80" y2="387.19" stroke="#d6d6d6" stroke-width="1.1"/>
<path d="M236.00,365.09 L477.20,434.29" fill="none" stroke="#585858" stroke-width="1.61" stroke-dasharray="5.3 2.8"/>
<path d="M236.00,372.01 L477.20,441.21" fill="none" stroke="#9a9a9a" stroke-width="1.33" stroke-dasharray="1 2.2"/>
<path d="M236.00,382.65 L477.20,451.85" fill="none" stroke="#585858" stroke-width="1.47" stroke-dasharray="1.2 2.3 3.4 2.3"/>
<path d="M236.00,400.44 L477.20,469.64" fill="none" stroke="#585858" stroke-width="1.52" stroke-dasharray="3 3.7"/>
<path d="M236.00,420.20 L477.20,489.40" fill="none" stroke="#505050" stroke-width="1.42"/>
<path d="M236.00,439.96 L477.20,509.16" fill="none" stroke="#585858" stroke-width="1.52" stroke-dasharray="3 3.7"/>
<path d="M236.00,457.75 L477.20,526.95" fill="none" stroke="#585858" stroke-width="1.47" stroke-dasharray="1.2 2.3 3.4 2.3"/>
<path d="M236.00,468.39 L477.20,537.59" fill="none" stroke="#9a9a9a" stroke-width="1.33" stroke-dasharray="1 2.2"/>
<path d="M236.00,475.31 L477.20,544.51" fill="none" stroke="#585858" stroke-width="1.61" stroke-dasharray="5.3 2.8"/>
<rect x="235.50" y="521.9" width="70.10" height="64.70" fill="#fff" stroke="#8a8a8a" stroke-width="1.3"/>
<path d="M242.8,532.60 L260.4,532.60" fill="none" stroke="#505050" stroke-width="1.50"/>
<text transform="translate(268,536.00) scale(0.93,1)" font-size="9.4" style="stroke-width:0.15px" fill="#111">50%</text>
<path d="M242.8,543.35 L260.4,543.35" fill="none" stroke="#585858" stroke-width="1.60" stroke-dasharray="3.6 2.9"/>
<text transform="translate(268,546.75) scale(0.93,1)" font-size="9.4" style="stroke-width:0.15px" fill="#111">25−75%</text>
<path d="M242.8,554.10 L260.4,554.10" fill="none" stroke="#585858" stroke-width="1.55" stroke-dasharray="1.3 2.2 3.6 2.0"/>
<text transform="translate(268,557.50) scale(0.93,1)" font-size="9.4" style="stroke-width:0.15px" fill="#111">10−90%</text>
<path d="M242.8,564.85 L260.4,564.85" fill="none" stroke="#9a9a9a" stroke-width="1.40" stroke-dasharray="1 2.3"/>
<text transform="translate(268,568.25) scale(0.93,1)" font-size="9.4" style="stroke-width:0.15px" fill="#111">5−95%</text>
<path d="M242.8,575.60 L260.4,575.60" fill="none" stroke="#585858" stroke-width="1.70" stroke-dasharray="6 2.8"/>
<text transform="translate(268,579.00) scale(0.93,1)" font-size="9.4" style="stroke-width:0.15px" fill="#111">3−97%</text>
<rect x="235.50" y="344.10" width="242.30" height="242.50" fill="none" stroke="#828282" stroke-width="1.5"/>
<line x1="230" y1="497.41" x2="235.50" y2="497.41" stroke="#8c8c8c" stroke-width="1.3"/>
<line x1="477.80" y1="497.41" x2="483.5" y2="497.41" stroke="#8c8c8c" stroke-width="1.3"/>
<text x="224.3" y="500.81" style="font-family:&quot;Liberation Serif&quot;,serif;stroke-width:0.22px" font-size="10" text-anchor="end" fill="#111">3</text>
<text x="489.3" y="500.81" style="font-family:&quot;Liberation Serif&quot;,serif;stroke-width:0.22px" font-size="10" fill="#111">3</text>
<line x1="230" y1="490.49" x2="235.50" y2="490.49" stroke="#8c8c8c" stroke-width="1.3"/>
<line x1="477.80" y1="490.49" x2="483.5" y2="490.49" stroke="#8c8c8c" stroke-width="1.3"/>
<text x="224.3" y="493.89" style="font-family:&quot;Liberation Serif&quot;,serif;stroke-width:0.22px" font-size="10" text-anchor="end" fill="#111">5</text>
<text x="489.3" y="493.89" style="font-family:&quot;Liberation Serif&quot;,serif;stroke-width:0.22px" font-size="10" fill="#111">5</text>
<line x1="230" y1="479.85" x2="235.50" y2="479.85" stroke="#8c8c8c" stroke-width="1.3"/>
<line x1="477.80" y1="479.85" x2="483.5" y2="479.85" stroke="#8c8c8c" stroke-width="1.3"/>
<text x="224.3" y="483.25" style="font-family:&quot;Liberation Serif&quot;,serif;stroke-width:0.22px" font-size="10" text-anchor="end" fill="#111">10</text>
<text x="489.3" y="483.25" style="font-family:&quot;Liberation Serif&quot;,serif;stroke-width:0.22px" font-size="10" fill="#111">10</text>
<line x1="230" y1="462.06" x2="235.50" y2="462.06" stroke="#8c8c8c" stroke-width="1.3"/>
<line x1="477.80" y1="462.06" x2="483.5" y2="462.06" stroke="#8c8c8c" stroke-width="1.3"/>
<text x="224.3" y="465.46" style="font-family:&quot;Liberation Serif&quot;,serif;stroke-width:0.22px" font-size="10" text-anchor="end" fill="#111">25</text>
<text x="489.3" y="465.46" style="font-family:&quot;Liberation Serif&quot;,serif;stroke-width:0.22px" font-size="10" fill="#111">25</text>
<line x1="230" y1="442.30" x2="235.50" y2="442.30" stroke="#8c8c8c" stroke-width="1.3"/>
<line x1="477.80" y1="442.30" x2="483.5" y2="442.30" stroke="#8c8c8c" stroke-width="1.3"/>
<text x="224.3" y="445.70" style="font-family:&quot;Liberation Serif&quot;,serif;stroke-width:0.22px" font-size="10" text-anchor="end" fill="#111">50</text>
<text x="489.3" y="445.70" style="font-family:&quot;Liberation Serif&quot;,serif;stroke-width:0.22px" font-size="10" fill="#111">50</text>
<line x1="230" y1="422.54" x2="235.50" y2="422.54" stroke="#8c8c8c" stroke-width="1.3"/>
<line x1="477.80" y1="422.54" x2="483.5" y2="422.54" stroke="#8c8c8c" stroke-width="1.3"/>
<text x="224.3" y="425.94" style="font-family:&quot;Liberation Serif&quot;,serif;stroke-width:0.22px" font-size="10" text-anchor="end" fill="#111">75</text>
<text x="489.3" y="425.94" style="font-family:&quot;Liberation Serif&quot;,serif;stroke-width:0.22px" font-size="10" fill="#111">75</text>
<line x1="230" y1="404.75" x2="235.50" y2="404.75" stroke="#8c8c8c" stroke-width="1.3"/>
<line x1="477.80" y1="404.75" x2="483.5" y2="404.75" stroke="#8c8c8c" stroke-width="1.3"/>
<text x="224.3" y="408.15" style="font-family:&quot;Liberation Serif&quot;,serif;stroke-width:0.22px" font-size="10" text-anchor="end" fill="#111">90</text>
<text x="489.3" y="408.15" style="font-family:&quot;Liberation Serif&quot;,serif;stroke-width:0.22px" font-size="10" fill="#111">90</text>
<line x1="230" y1="394.11" x2="235.50" y2="394.11" stroke="#8c8c8c" stroke-width="1.3"/>
<line x1="477.80" y1="394.11" x2="483.5" y2="394.11" stroke="#8c8c8c" stroke-width="1.3"/>
<text x="224.3" y="397.51" style="font-family:&quot;Liberation Serif&quot;,serif;stroke-width:0.22px" font-size="10" text-anchor="end" fill="#111">95</text>
<text x="489.3" y="397.51" style="font-family:&quot;Liberation Serif&quot;,serif;stroke-width:0.22px" font-size="10" fill="#111">95</text>
<line x1="230" y1="387.19" x2="235.50" y2="387.19" stroke="#8c8c8c" stroke-width="1.3"/>
<line x1="477.80" y1="387.19" x2="483.5" y2="387.19" stroke="#8c8c8c" stroke-width="1.3"/>
<text x="224.3" y="390.59" style="font-family:&quot;Liberation Serif&quot;,serif;stroke-width:0.22px" font-size="10" text-anchor="end" fill="#111">97</text>
<text x="489.3" y="390.59" style="font-family:&quot;Liberation Serif&quot;,serif;stroke-width:0.22px" font-size="10" fill="#111">97</text>
<line x1="239.30" y1="586.60" x2="239.30" y2="592" stroke="#8c8c8c" stroke-width="1.3"/>
<text transform="translate(239.30,606.6) scale(0.93,1)" font-size="9.5" style="stroke-width:0.15px" text-anchor="middle" fill="#111">15</text>
<line x1="276.10" y1="586.60" x2="276.10" y2="592" stroke="#8c8c8c" stroke-width="1.3"/>
<text transform="translate(276.10,606.6) scale(0.93,1)" font-size="9.5" style="stroke-width:0.15px" text-anchor="middle" fill="#111">20</text>
<line x1="312.90" y1="586.60" x2="312.90" y2="592" stroke="#8c8c8c" stroke-width="1.3"/>
<text transform="translate(312.90,606.6) scale(0.93,1)" font-size="9.5" style="stroke-width:0.15px" text-anchor="middle" fill="#111">25</text>
<line x1="349.70" y1="586.60" x2="349.70" y2="592" stroke="#8c8c8c" stroke-width="1.3"/>
<text transform="translate(349.70,606.6) scale(0.93,1)" font-size="9.5" style="stroke-width:0.15px" text-anchor="middle" fill="#111">30</text>
<line x1="386.50" y1="586.60" x2="386.50" y2="592" stroke="#8c8c8c" stroke-width="1.3"/>
<text transform="translate(386.50,606.6) scale(0.93,1)" font-size="9.5" style="stroke-width:0.15px" text-anchor="middle" fill="#111">35</text>
<line x1="423.30" y1="586.60" x2="423.30" y2="592" stroke="#8c8c8c" stroke-width="1.3"/>
<text transform="translate(423.30,606.6) scale(0.93,1)" font-size="9.5" style="stroke-width:0.15px" text-anchor="middle" fill="#111">40</text>
<line x1="460.10" y1="586.60" x2="460.10" y2="592" stroke="#8c8c8c" stroke-width="1.3"/>
<text transform="translate(460.10,606.6) scale(0.93,1)" font-size="9.5" style="stroke-width:0.15px" text-anchor="middle" fill="#111">45</text>
<text x="332.3" y="626.2" font-size="8.8" textLength="49" lengthAdjust="spacingAndGlyphs" fill="#111">BMI [kg/m<tspan font-size="6" dy="-3.8">2</tspan><tspan dy="3.8">]</tspan></text>
<text transform="translate(198,465.2) rotate(-90)" font-size="8.4" text-anchor="middle" textLength="146" lengthAdjust="spacingAndGlyphs" fill="#111">Predicted centiles at BMI=25 kg/m<tspan font-size="6" dy="-3.6">2</tspan></text>
<text transform="translate(516.6,465.2) rotate(-90)" font-size="8.4" text-anchor="middle" textLength="146" lengthAdjust="spacingAndGlyphs" fill="#111">Predicted centiles at BMI=25 kg/m<tspan font-size="6" dy="-3.6">2</tspan></text>
<text x="356.6" y="334.5" font-size="11.2" font-weight="bold" text-anchor="middle" textLength="146.5" lengthAdjust="spacingAndGlyphs" fill="#111">Correction of centiles for BMI</text>
<text x="217.3" y="336.8" font-size="17.8" font-weight="bold" fill="#000">C</text>
</svg>
</body></html>
